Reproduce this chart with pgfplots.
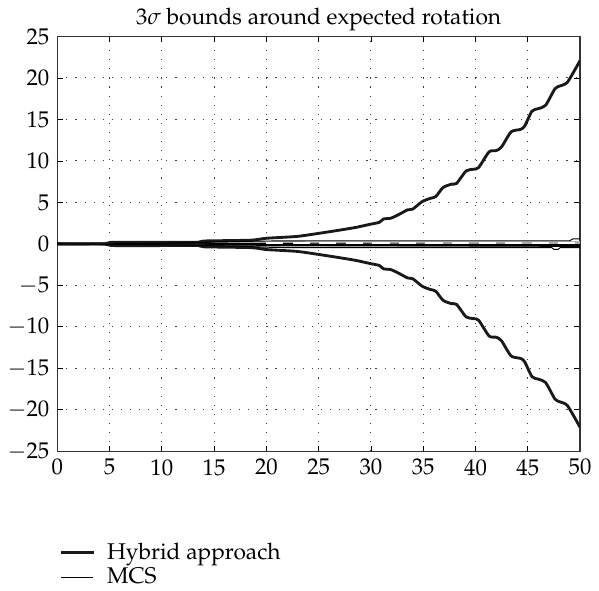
\documentclass[12pt,border=0pt]{standalone}
\usepackage[T1]{fontenc}
\usepackage{mathpazo}
\usepackage{pgfplots}
\pgfplotsset{compat=1.18}
\begin{document}
\begin{tikzpicture}
\begin{axis}[
  scale only axis,
  width=276pt, height=219pt,
  xmin=0, xmax=50, ymin=-25, ymax=25,
  xtick={0,5,...,50}, ytick={-25,-20,...,25},
  tick align=inside,
  major tick length=3pt,
  tick style={black, line width=0.4pt},
  axis line style={black!80, line width=0.6pt},
  grid=major,
  grid style={black!75, line width=0.5pt, dash pattern=on 0.6pt off 4.2pt},
  title={$3\sigma$ bounds around expected rotation},
  title style={yshift=-7pt},
  legend style={draw=none, fill=none, at={(axis description cs:0,0)}, anchor=north west, xshift=1pt, yshift=-46.5pt, inner sep=0pt, row sep=0pt, nodes={inner sep=1.5pt}, font=\normalsize},
  legend cell align=left,
  clip=true,
]
% background band near zero (expected rotation)
\addplot[forget plot, gray!65, line width=3pt] coordinates {(13.8,0.0) (50,0.0)};
\addplot[forget plot, black, line width=1.4pt] coordinates {(0,0) (5,0) (50,-0.2)};
\addplot[forget plot, white, line width=0.7pt, dash pattern=on 9pt off 5pt] coordinates {(20,0.1) (50,0.1)};
% Hybrid approach upper
\addplot[black!90, line width=1.5pt, smooth, tension=0.4] coordinates {
(0,0) (5.2,0) (5.4,0.2) (13.8,0.2) (14,0.35) (18.5,0.45) (20,0.68) (22.9,0.9) (25,1.27) (27.2,1.7) (28.6,2.0) (29.9,2.36)
(30.8,2.6) (31.2,3.0) (31.9,3.1) (32.6,3.5) (33.5,4.1) (34.0,4.2) (34.9,5.1) (35.7,5.5) (36.2,5.7) (36.9,6.8) (37.7,7.2)
(38.2,7.3) (39.1,8.8) (39.8,9.0) (40.3,9.2) (41.3,11.1) (42.0,11.25) (42.5,11.7) (43.4,13.5) (44.3,13.8) (44.7,14.2)
(45.4,16.0) (46.0,16.3) (46.7,16.7) (47.6,18.7) (48.1,19.05) (48.8,19.5) (50,22.1)
};
\addlegendentry{\hspace*{5pt}Hybrid approach}
% MCS upper
\addplot[black, line width=0.5pt] coordinates {
(0,0) (5,0.05) (10,0.1) (14,0.2) (18,0.3) (20,0.35) (24,0.38) (30,0.38) (40,0.38) (49,0.38) (49.3,0.6) (50,0.6)
};
\addlegendentry{\hspace*{5pt}MCS}
% Hybrid lower
\addplot[forget plot, black!90, line width=1.5pt, smooth, tension=0.4] coordinates {
(0,0) (5.2,0) (5.4,-0.2) (13.8,-0.2) (14,-0.35) (18.5,-0.45) (20,-0.68) (22.9,-0.9) (25,-1.27) (27.2,-1.7) (28.6,-2.0) (29.9,-2.36)
(30.8,-2.6) (31.2,-3.0) (31.9,-3.1) (32.6,-3.5) (33.5,-4.1) (34.0,-4.2) (34.9,-5.1) (35.7,-5.5) (36.2,-5.7) (36.9,-6.8) (37.7,-7.2)
(38.2,-7.3) (39.1,-8.8) (39.8,-9.0) (40.3,-9.2) (41.3,-11.1) (42.0,-11.25) (42.5,-11.7) (43.4,-13.5) (44.3,-13.8) (44.7,-14.2)
(45.4,-16.0) (46.0,-16.3) (46.7,-16.7) (47.6,-18.7) (48.1,-19.05) (48.8,-19.5) (50,-22.1)
};
% MCS lower
\addplot[forget plot, black, line width=0.5pt] coordinates {
(0,0) (5,-0.05) (10,-0.1) (14,-0.2) (18,-0.3) (20,-0.4) (22,-0.45) (25,-0.45) (30,-0.45) (40,-0.45) (47.3,-0.45) (47.5,-0.65) (47.9,-0.65) (48.1,-0.45) (50,-0.45)
};
\end{axis}
\end{tikzpicture}
\end{document}
